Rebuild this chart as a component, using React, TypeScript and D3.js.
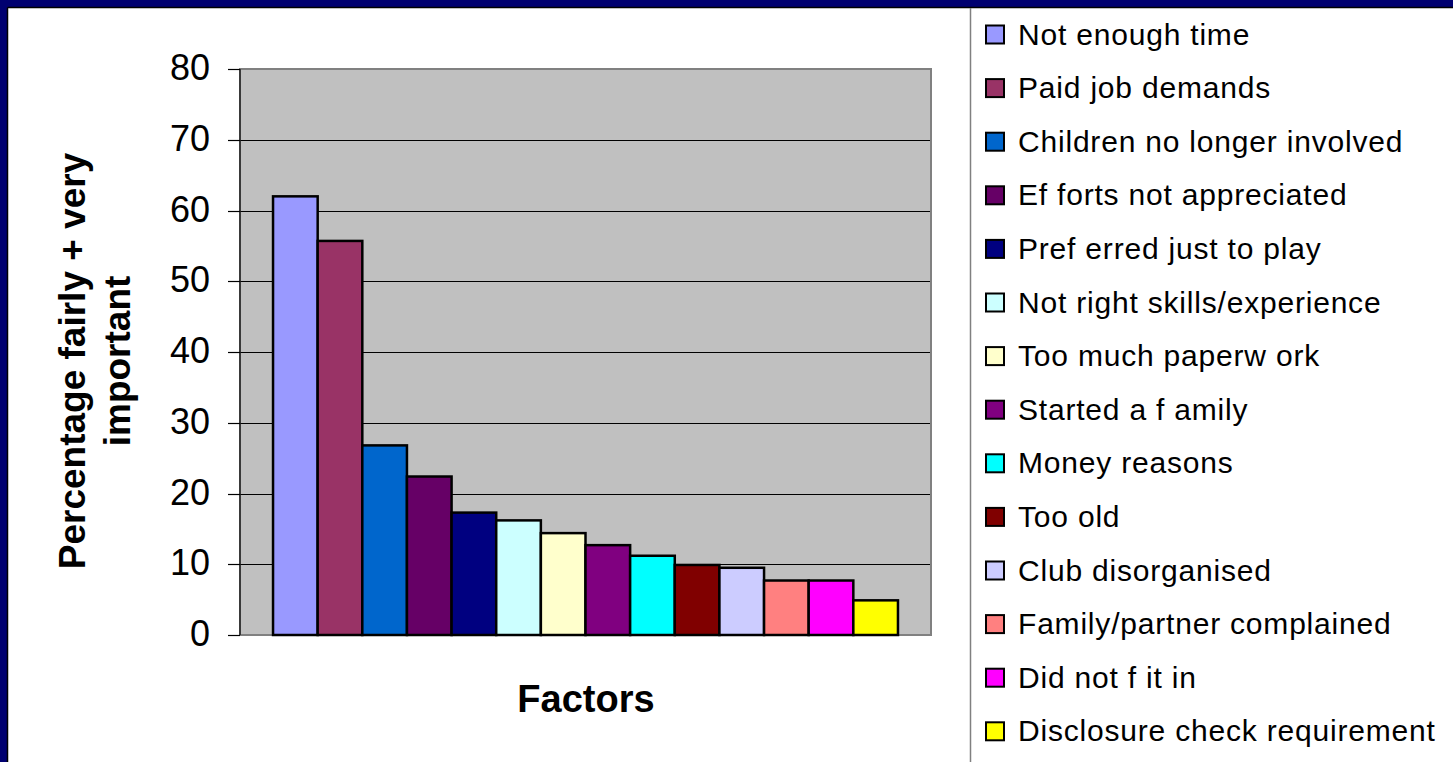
import React from "react";
import * as d3 from "d3";

// Reasons for stopping volunteering, share rating each as fairly/very important
const factors = [
  "Not enough time",
  "Paid job demands",
  "Children no longer involved",
  "Efforts not appreciated",
  "Preferred just to play",
  "Not right skills/experience",
  "Too much paperwork",
  "Started a family",
  "Money reasons",
  "Too old",
  "Club disorganised",
  "Family/partner complained",
  "Did not fit in",
  "Disclosure check requirement",
];

// Legend text as rendered (the original export spaced a few glyphs oddly)
const legendLabels = [
  "Not enough time",
  "Paid job demands",
  "Children no longer involved",
  "Ef forts not appreciated",
  "Pref erred just to play",
  "Not right skills/experience",
  "Too much paperw ork",
  "Started a f amily",
  "Money reasons",
  "Too old",
  "Club disorganised",
  "Family/partner complained",
  "Did not f it in",
  "Disclosure check requirement",
];

const percentages = [62, 55.7, 26.8, 22.4, 17.3, 16.2, 14.4, 12.7, 11.2, 9.9, 9.5, 7.7, 7.7, 4.9];

const barColors = [
  "#9999FF", "#993366", "#0066CC", "#660066", "#000080", "#CCFFFF", "#FFFFCC",
  "#800080", "#00FFFF", "#800000", "#CCCCFF", "#FF8080", "#FF00FF", "#FFFF00",
];

const yTicks = [0, 10, 20, 30, 40, 50, 60, 70, 80];

const W = 1453;
const H = 762;
const FONT = "'Liberation Sans', Arial, Helvetica, sans-serif";

export default function App() {
  const plot = { left: 240, right: 931, top: 69, bottom: 635 };

  const y = d3.scaleLinear().domain([0, 80]).range([plot.bottom, plot.top]);
  const x = d3
    .scaleBand<string>()
    .domain(factors)
    .range([plot.left, plot.right])
    .paddingInner(0)
    .paddingOuter(0.74);

  const legendX = 970.5;
  const legendRow0 = 34.5;
  const legendStep = 53.6;

  return (
    <svg
      width={W}
      height={H}
      viewBox={`0 0 ${W} ${H}`}
      style={{ position: "absolute", left: 0, top: 0, display: "block" }}
      fontFamily={FONT}
    >
      {/* frame */}
      <rect x={0} y={0} width={W} height={H} fill="#000070" />
      <rect x={8} y={8} width={W - 8} height={H - 8} fill="#ffffff" />
      <line x1={7.5} y1={7.5} x2={W} y2={7.5} stroke="#000000" strokeWidth={1.5} />
      <line x1={7.5} y1={7.5} x2={7.5} y2={H} stroke="#000000" strokeWidth={1.5} />

      {/* plot background */}
      <rect
        x={plot.left}
        y={plot.top}
        width={plot.right - plot.left}
        height={plot.bottom - plot.top}
        fill="#C0C0C0"
        stroke="#808080"
        strokeWidth={2}
      />

      {/* gridlines */}
      {yTicks
        .filter((t) => t > 0 && t < 80)
        .map((t) => (
          <line
            key={`g${t}`}
            x1={plot.left}
            x2={plot.right - 1}
            y1={Math.round(y(t)) + 0.5}
            y2={Math.round(y(t)) + 0.5}
            stroke="#000000"
            strokeWidth={1.2}
          />
        ))}

      {/* value axis */}
      <line x1={plot.left} x2={plot.left} y1={plot.top} y2={plot.bottom} stroke="#222" strokeWidth={1.5} />
      {yTicks.map((t) => (
        <g key={`t${t}`}>
          <line
            x1={plot.left - 12}
            x2={plot.left}
            y1={Math.round(y(t)) + 0.5}
            y2={Math.round(y(t)) + 0.5}
            stroke="#000"
            strokeWidth={1.2}
          />
          <text
            x={210}
            y={y(t) + 11}
            textAnchor="end"
            fontSize={36}
            fill="#000"
          >
            {t}
          </text>
        </g>
      ))}

      {/* bars */}
      {factors.map((f, i) => (
        <rect
          key={f}
          x={x(f)!}
          y={y(percentages[i])}
          width={x.bandwidth()}
          height={y(0) - y(percentages[i])}
          fill={barColors[i]}
          stroke="#000"
          strokeWidth={2.5}
        />
      ))}

      {/* axis titles */}
      <text x={586} y={712} textAnchor="middle" fontSize={38} fontWeight="bold" fill="#000">
        Factors
      </text>
      <text
        transform="translate(85,361) rotate(-90)"
        textAnchor="middle"
        fontSize={37}
        fontWeight="bold"
        fill="#000"
      >
        Percentage fairly + very
      </text>
      <text
        transform="translate(130,361) rotate(-90)"
        textAnchor="middle"
        fontSize={37}
        fontWeight="bold"
        fill="#000"
      >
        important
      </text>

      {/* legend */}
      <line x1={legendX} x2={legendX} y1={8} y2={H} stroke="#808080" strokeWidth={1.5} />
      {factors.map((f, i) => {
        const cy = legendRow0 + i * legendStep;
        return (
          <g key={`l${f}`}>
            <rect
              x={986}
              y={cy - 9}
              width={18}
              height={18}
              fill={barColors[i]}
              stroke="#000"
              strokeWidth={2}
            />
            <text x={1018} y={cy + 10} fontSize={30} letterSpacing={0.8} fill="#000">
              {legendLabels[i]}
            </text>
          </g>
        );
      })}
    </svg>
  );
}
